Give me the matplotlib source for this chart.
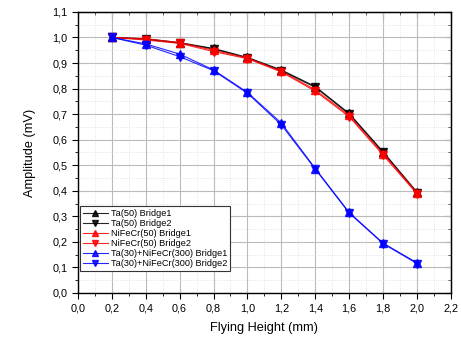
import numpy as np
import matplotlib.pyplot as plt
from matplotlib.ticker import MultipleLocator, FuncFormatter

plt.rcParams['font.family'] = ['Liberation Sans', 'DejaVu Sans']

height = [0.2, 0.4, 0.6, 0.8, 1.0, 1.2, 1.4, 1.6, 1.8, 2.0]
ta_b1 = [1.0, 0.995, 0.980, 0.957, 0.922, 0.873, 0.808, 0.703, 0.553, 0.395]
ta_b2 = [1.0, 0.993, 0.978, 0.955, 0.920, 0.870, 0.805, 0.700, 0.550, 0.392]
nifecr_b1 = [1.0, 0.995, 0.980, 0.950, 0.920, 0.868, 0.795, 0.695, 0.545, 0.393]
nifecr_b2 = [1.0, 0.990, 0.977, 0.945, 0.917, 0.865, 0.790, 0.690, 0.540, 0.388]
mix_b1 = [1.0, 0.975, 0.935, 0.873, 0.785, 0.665, 0.487, 0.315, 0.195, 0.118]
mix_b2 = [1.0, 0.970, 0.925, 0.870, 0.782, 0.658, 0.485, 0.313, 0.193, 0.115]

series = [
    (ta_b1, 'Ta(50) Bridge1', 'black', '^'),
    (ta_b2, 'Ta(50) Bridge2', 'black', 'v'),
    (nifecr_b1, 'NiFeCr(50) Bridge1', 'red', '^'),
    (nifecr_b2, 'NiFeCr(50) Bridge2', 'red', 'v'),
    (mix_b1, 'Ta(30)+NiFeCr(300) Bridge1', 'blue', '^'),
    (mix_b2, 'Ta(30)+NiFeCr(300) Bridge2', 'blue', 'v'),
]

fig = plt.figure(figsize=(4.61, 3.41), dpi=100)
ax = fig.add_axes([0.169, 0.141, 0.809, 0.824])

for y, lab, c, m in series:
    ax.plot(height, y, color=c, marker=m, markersize=5.5, linewidth=0.8,
            alpha=0.85, label=lab, zorder=3)

ax.set_xlim(0, 2.2)
ax.set_ylim(0, 1.1)
ax.xaxis.set_major_locator(MultipleLocator(0.2))
ax.xaxis.set_minor_locator(MultipleLocator(0.1))
ax.yaxis.set_major_locator(MultipleLocator(0.1))
ax.yaxis.set_minor_locator(MultipleLocator(0.05))
fmt = FuncFormatter(lambda v, p: ('%.1f' % v).replace('.', ','))
ax.xaxis.set_major_formatter(fmt)
ax.yaxis.set_major_formatter(fmt)

ax.grid(which='major', color='#bbbbbb', linewidth=0.8)
ax.grid(which='minor', color='#dddddd', linewidth=0.6, linestyle=':')
ax.set_axisbelow(True)

ax.tick_params(which='both', direction='out', labelsize=7.8, top=False, right=False)
ax.tick_params(which='major', length=4, width=0.8)
ax.tick_params(which='minor', length=2, width=0.6)
ax2 = ax.secondary_xaxis('top')
ax2.xaxis.set_major_locator(MultipleLocator(0.2))
ax2.xaxis.set_minor_locator(MultipleLocator(0.1))
ax2.tick_params(which='both', direction='in', labeltop=False)
ax2.tick_params(which='major', length=4)
ax2.tick_params(which='minor', length=2)
ax3 = ax.secondary_yaxis('right')
ax3.yaxis.set_major_locator(MultipleLocator(0.1))
ax3.yaxis.set_minor_locator(MultipleLocator(0.05))
ax3.tick_params(which='both', direction='in', labelright=False)
ax3.tick_params(which='major', length=4)
ax3.tick_params(which='minor', length=2)

for s in ax.spines.values():
    s.set_linewidth(1.0)

ax.set_xlabel('Flying Height (mm)', fontsize=9.2, labelpad=6)
ax.set_ylabel('Amplitude (mV)', fontsize=9.2, labelpad=12)

leg = ax.legend(loc='lower left', bbox_to_anchor=(0.005, 0.078), fontsize=6.6,
                fancybox=False, edgecolor='#333333', framealpha=1,
                handlelength=2.8, handletextpad=0.3, labelspacing=0.12,
                borderpad=0.3, borderaxespad=0, markerscale=0.85)
leg.get_frame().set_linewidth(0.8)

fig.savefig('out.png', dpi=100)
